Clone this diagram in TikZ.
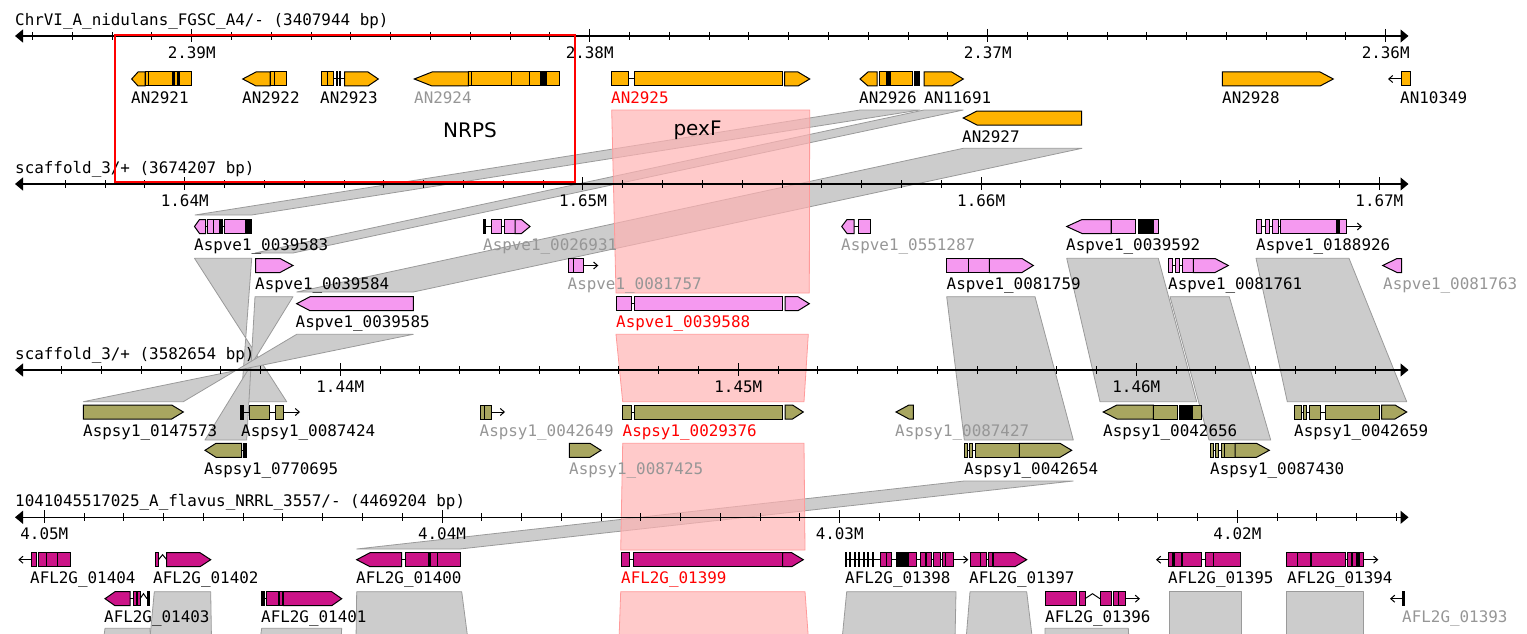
\documentclass[tikz,border=0pt]{standalone}
\usepackage{fontspec}
\usepackage{tikz}
\usetikzlibrary{arrows.meta}
\newfontfamily\browserfont{DejaVu Sans Mono}
\newfontfamily\notefont{DejaVu Sans}
\definecolor{nid-gene}{HTML}{FFB300}
\definecolor{ve-gene}{HTML}{F599F0}
\definecolor{sy-gene}{HTML}{A8A660}
\definecolor{fl-gene}{HTML}{CC1488}
\definecolor{rib-fill}{HTML}{CCCCCC}
\definecolor{rib-edge}{HTML}{9A9A9A}
\definecolor{hit-fill}{HTML}{FFB3B3}
\definecolor{hit-edge}{HTML}{FF9A9A}
\definecolor{lab-gray}{HTML}{969696}

% gene pieces, drawn in a row scope (local y 0..14)
\newcommand{\exon}[2]{\filldraw[exon] (#1,0) rectangle (#2,14);}
\newcommand{\exonK}[2]{\filldraw[exon, fill=black] (#1,0) rectangle (#2,14);}
\newcommand{\exonR}[3]{\filldraw[exon] (#1,0) -- (#2,0) -- (#3,7) -- (#2,14) -- (#1,14) -- cycle;}
\newcommand{\exonL}[3]{\filldraw[exon] (#1,7) -- (#2,0) -- (#3,0) -- (#3,14) -- (#2,14) -- cycle;}
\newcommand{\intron}[2]{\draw[intron] (#1,7) -- (#2,7);}
\newcommand{\caret}[2]{\draw[intron] (#1,7) -- ({(#1+#2)/2},2) -- (#2,7);}
\newcommand{\tailR}[2]{\draw[intron, -{Straight Barb[length=4pt,width=7pt]}] (#1,7) -- (#2,7);}
\newcommand{\tailL}[2]{\draw[intron, -{Straight Barb[length=4pt,width=7pt]}] (#1,7) -- (#2,7);}

\begin{document}
\begin{tikzpicture}[
    x=1pt, y=-1pt,
    % track parts
    seqaxis/.style={line width=1.2pt, {Triangle[length=8pt,width=13pt]}-{Triangle[length=8pt,width=13pt]}},
    tick/.style={line width=1pt},
    gene/.style={draw=black, line width=1pt, line join=miter},
    exon/.style={gene, fill=nid-gene},
    intron/.style={line width=1pt, black},
    genelab/.style={font=\browserfont\fontsize{15.9}{18}\selectfont, anchor=base west, inner sep=0pt},
    graylab/.style={genelab, text=lab-gray},
    redlab/.style={genelab, text=red},
    ticklab/.style={font=\browserfont\fontsize{15.9}{18}\selectfont, anchor=base, inner sep=0pt},
    title/.style={font=\browserfont\fontsize{15.9}{18}\selectfont, anchor=base west, inner sep=0pt},
    % links between tracks
    ribbon/.style={fill=rib-fill, draw=rib-edge, line width=0.8pt, line join=round},
    hit/.style={fill=hit-fill, fill opacity=0.7, draw=hit-edge, line width=0.8pt},
    note/.style={font=\notefont\fontsize{20}{24}\selectfont, inner sep=0pt}
  ]
  \useasboundingbox (0,0) rectangle (1527,634);
  \clip (0,0) rectangle (1527,634);

  % =========================================================================
  % SYNTENY RIBBONS
  % =========================================================================
  % ChrVI -> scaffold_3 (Aspve1)
  \draw[ribbon] (860,110) -- (920,110) -- (251.7,215) -- (195,215) -- cycle;
  \draw[ribbon] (924,110) -- (963.3,110) -- (293,253) -- (255,253) -- cycle;
  \draw[ribbon] (963.3,148.3) -- (1082,148.3) -- (413.3,292) -- (296.7,292) -- cycle;
  % Aspve1 -> Aspsy1 (three inverted ones cross)
  \draw[ribbon] (194.5,258.3) -- (251.7,258.3) -- (241,401.7) -- (286.7,401.7) -- cycle;
  \draw[ribbon] (255,296.7) -- (293,296.7) -- (205,440) -- (246.7,440) -- cycle;
  \draw[ribbon] (296.7,334.3) -- (413.3,334.3) -- (83.3,401.7) -- (183.3,401.7) -- cycle;
  \draw[ribbon] (1066.7,258.3) -- (1158.3,258.3) -- (1196.7,401.7) -- (1100,401.7) -- cycle;
  \draw[ribbon] (946.7,296.7) -- (1035,296.7) -- (1073.3,440) -- (964.3,440) -- cycle;
  \draw[ribbon] (1170,296.7) -- (1229.3,296.7) -- (1270.7,440) -- (1209,440) -- cycle;
  \draw[ribbon] (1256,258.3) -- (1349,258.3) -- (1406.7,401.7) -- (1287.3,401.7) -- cycle;
  % Aspsy1 -> A. flavus
  \draw[ribbon] (964.3,481) -- (1073.3,481) -- (460,549) -- (356.7,549) -- cycle;
  % A. flavus -> next track (cut at the bottom)
  \draw[ribbon] (154.3,591.7) -- (210.7,591.7) -- (211.5,640) -- (149.8,640) -- cycle;
  \draw[ribbon] (105,628.3) -- (150,628.3) -- (150.5,640) -- (103.5,640) -- cycle;
  \draw[ribbon] (261.7,628.3) -- (341.7,628.3) -- (341,640) -- (260,640) -- cycle;
  \draw[ribbon] (356.7,591.7) -- (461.7,591.7) -- (468,640) -- (356,640) -- cycle;
  \draw[ribbon] (846.7,591.7) -- (956,591.7) -- (955,640) -- (842,640) -- cycle;
  \draw[ribbon] (970,591.7) -- (1026.7,591.7) -- (1032.5,640) -- (966,640) -- cycle;
  \draw[ribbon] (1045,628.3) -- (1128.3,628.3) -- (1129,640) -- (1045,640) -- cycle;
  \draw[ribbon] (1169.3,591.7) -- (1241.7,591.7) -- (1241.7,640) -- (1169.3,640) -- cycle;
  \draw[ribbon] (1286.7,591.7) -- (1363.3,591.7) -- (1363.3,640) -- (1286.7,640) -- cycle;
  % pexF orthologues
  \draw[hit] (611.7,110) -- (809.7,110) -- (809.3,293) -- (616,293) -- cycle;
  \draw[hit] (616,334.3) -- (808.3,334.3) -- (804,401.7) -- (622.7,401.7) -- cycle;
  \draw[hit] (622.7,443.3) -- (804,443.3) -- (805,550) -- (620.7,550) -- cycle;
  \draw[hit] (620.7,591.7) -- (805,591.7) -- (808.5,640) -- (619,640) -- cycle;

  % =========================================================================
  % TRACK 1: A. NIDULANS
  % =========================================================================
  \begin{scope}[shift={(0,36)}]
    \node[title] (t-nid) at (15,-10.5) {ChrVI\_A\_nidulans\_FGSC\_A4/- (3407944 bp)};
    \draw[seqaxis] (15,0) -- (1408.5,0);
    \foreach \i in {0,...,34} \draw[tick] ({32.5+39.8*\i},-4) -- ++(0,8);
    \foreach \i/\m in {4/2.39M,14/2.38M,24/2.37M,34/2.36M} {
      \draw[tick] ({32.5+39.8*\i},-7) -- ++(0,13);
      \node[ticklab] (m-nid-\i) at ({32.5+39.8*\i},22.5) {\m};
    }
  \end{scope}
  \begin{scope}[exon/.style={gene, fill=nid-gene}]
    \begin{scope}[shift={(0,72)}]
      \exonL{131.7}{138}{145}\exon{145}{148.3}\exon{148.3}{191.7}\exonK{172}{174}\exonK{177.5}{179.5}
      \node[genelab] (an2921) at (131,31) {AN2921};
      \exonL{242.7}{256}{270}\exon{270}{274}\exon{274}{286}
      \node[genelab] (an2922) at (242,31) {AN2922};
      \intron{333}{345}\exon{321}{327.5}\exon{327.5}{333}\exonK{336.5}{337.5}\exonK{339.5}{340.5}\exonR{344.5}{368}{378.3}
      \node[genelab] (an2923) at (320,31) {AN2923};
      \exonL{414.3}{432}{468.3}\exon{468.3}{471.3}\exon{471.3}{511.7}\exon{511.7}{529}\exon{529}{540.5}\exonK{541.5}{543}\exonK{544.5}{546}\exon{546}{559.3}
      \node[graylab] (an2924) at (414,31) {AN2924};
      \intron{628.3}{634}\exon{611.7}{628.3}\exon{634}{782}\exonR{784.5}{798}{809.7}
      \node[redlab] (an2925) at (611,31) {AN2925};
      \exonL{860}{868}{877}\exon{879}{886.5}\exonK{886.5}{890.5}\exon{890.5}{912.3}\exonK{914.5}{916}\exonK{917.5}{919.5}
      \node[genelab] (an2926) at (859,31) {AN2926};
      \exonR{924}{951.7}{963.3}
      \node[genelab] (an11691) at (924,31) {AN11691};
      \exonR{1222.3}{1320}{1333.3}
      \node[genelab] (an2928) at (1222,31) {AN2928};
      \tailL{1401}{1388}\exon{1401}{1410}
      \node[genelab] (an10349) at (1400,31) {AN10349};
    \end{scope}
    \begin{scope}[shift={(0,111)}]
      \exonL{963.3}{977}{1081.7}
      \node[genelab] (an2927) at (962,31) {AN2927};
    \end{scope}
  \end{scope}

  % =========================================================================
  % TRACK 2: ASPVE1 SCAFFOLD
  % =========================================================================
  \begin{scope}[shift={(0,184)}]
    \node[title] (t-ve) at (15,-11) {scaffold\_3/+ (3674207 bp)};
    \draw[seqaxis] (15,0) -- (1408.5,0);
    \foreach \i in {0,...,33} \draw[tick] ({65.3+39.82*\i},-4) -- ++(0,8);
    \foreach \i/\m in {3/1.64M,13/1.65M,23/1.66M,33/1.67M} {
      \draw[tick] ({65.3+39.82*\i},-7) -- ++(0,13);
      \node[ticklab] (m-ve-\i) at ({65.3+39.82*\i},22.5) {\m};
    }
  \end{scope}
  \begin{scope}[exon/.style={gene, fill=ve-gene}]
    \begin{scope}[shift={(0,219.5)}]
      \intron{194.5}{251.7}\exonL{194.5}{199.5}{205.5}\exon{207.5}{213.5}\exon{213.5}{219.5}\exonK{219.5}{222}\exon{224.5}{245}\exonK{245}{251.7}
      \node[genelab] (ve583) at (194,31) {Aspve1\_0039583};
      \intron{483.3}{504}\exonK{483.3}{485.5}\exon{491.7}{501.7}\exon{504.5}{515}\exonR{515}{521.5}{530}
      \node[graylab] (ve931) at (483,31) {Aspve1\_0026931};
      \intron{850}{858}\exonL{841.7}{847}{854}\exon{858}{870}
      \node[graylab] (ve287) at (841,31) {Aspve1\_0551287};
      \exonL{1066.7}{1082}{1111}\exon{1111}{1135.7}\exonK{1138}{1153.3}\exon{1153.3}{1158.3}
      \node[genelab] (ve592) at (1066,31) {Aspve1\_0039592};
      \intron{1256}{1346.7}\exon{1256}{1261.5}\exon{1265}{1269.5}\exon{1272}{1278}\exon{1280}{1336}\exonK{1336}{1339}\exon{1339}{1346.7}\tailR{1346.7}{1362}
      \node[genelab] (ve926) at (1256,31) {Aspve1\_0188926};
    \end{scope}
    \begin{scope}[shift={(0,258.5)}]
      \exonR{255.5}{280}{293}
      \node[genelab] (ve584) at (255,31) {Aspve1\_0039584};
      \exon{568.3}{573.3}\exon{573.3}{583.3}\tailR{583.3}{598.3}
      \node[graylab] (ve757) at (567.5,31) {Aspve1\_0081757};
      \exon{946.7}{968.3}\exon{968.3}{989.3}\exonR{989.3}{1022}{1033.3}
      \node[genelab] (ve759) at (946.5,31) {Aspve1\_0081759};
      \intron{1168.3}{1193.3}\exon{1168.3}{1172.5}\exon{1175}{1179}\exon{1182}{1193.3}\exonR{1193.3}{1215}{1228.3}
      \node[genelab] (ve761) at (1168,31) {Aspve1\_0081761};
      \exonL{1382.7}{1397}{1401.7}
      \node[graylab] (ve763) at (1383,31) {Aspve1\_0081763};
    \end{scope}
    \begin{scope}[shift={(0,296.7)}]
      \exonL{296.7}{310}{413.3}
      \node[genelab] (ve585) at (295.5,31) {Aspve1\_0039585};
      \intron{631}{634}\exon{616}{631}\exon{634}{782.7}\exonR{785}{798}{809.3}
      \node[redlab] (ve588) at (616,31) {Aspve1\_0039588};
    \end{scope}
  \end{scope}

  % =========================================================================
  % TRACK 3: ASPSY1 SCAFFOLD
  % =========================================================================
  \begin{scope}[shift={(0,370)}]
    \node[title] (t-sy) at (15,-11) {scaffold\_3/+ (3582654 bp)};
    \draw[seqaxis] (15,0) -- (1408.5,0);
    \foreach \i in {0,...,33} \draw[tick] ({61.7+39.8*\i},-4) -- ++(0,8);
    \foreach \i/\m in {7/1.44M,17/1.45M,27/1.46M} {
      \draw[tick] ({61.7+39.8*\i},-7) -- ++(0,13);
      \node[ticklab] (m-sy-\i) at ({61.7+39.8*\i},22.5) {\m};
    }
  \end{scope}
  \begin{scope}[exon/.style={gene, fill=sy-gene}]
    \begin{scope}[shift={(0,405)}]
      \exonR{83.3}{171.7}{183.3}
      \node[genelab] (sy573) at (83,31) {Aspsy1\_0147573};
      \intron{241}{283.3}\exonK{240.7}{243}\exon{249.3}{269.5}\exon{275}{283.3}\tailR{283.3}{300}
      \node[genelab] (sy424) at (241,31) {Aspsy1\_0087424};
      \exon{480}{484}\exon{484}{491.7}\tailR{491.7}{505}
      \node[graylab] (sy649) at (479.5,31) {Aspsy1\_0042649};
      \intron{631}{634.3}\exon{622.7}{631}\exon{634.3}{782.7}\exonR{785}{792.5}{803.3}
      \node[redlab] (sy376) at (622.5,31) {Aspsy1\_0029376};
      \exonL{896}{909}{913.3}
      \node[graylab] (sy427) at (895,31) {Aspsy1\_0087427};
      \exonL{1103.3}{1117}{1153.3}\exon{1153.3}{1177.7}\exonK{1179}{1191.7}\exon{1192.7}{1201}
      \node[genelab] (sy656) at (1103,31) {Aspsy1\_0042656};
      \intron{1294.3}{1325}\exon{1294.3}{1301.5}\exon{1303.5}{1306.5}\exon{1309}{1320}\exon{1325}{1379.3}\exonR{1381.5}{1395}{1406.7}
      \node[genelab] (sy659) at (1294,31) {Aspsy1\_0042659};
    \end{scope}
    \begin{scope}[shift={(0,443.3)}]
      \intron{241.7}{243.5}\exonL{205}{216}{241.7}\exonK{243.5}{246.5}
      \node[genelab] (sy695) at (204,31) {Aspsy1\_0770695};
      \exonR{569.3}{590}{601}
      \node[graylab] (sy425) at (569,31) {Aspsy1\_0087425};
      \intron{964.3}{975}\exon{964.3}{967.5}\exon{969}{972.5}\exon{975}{1019.3}\exonR{1019.3}{1060}{1071.7}
      \node[genelab] (sy654) at (964,31) {Aspsy1\_0042654};
      \intron{1210}{1224}\exon{1210}{1213}\exon{1215.5}{1218.5}\exon{1221}{1224}\exon{1224}{1235}\exonR{1235}{1256.5}{1269.3}
      \node[genelab] (sy430) at (1210,31) {Aspsy1\_0087430};
    \end{scope}
  \end{scope}

  % =========================================================================
  % TRACK 4: A. FLAVUS
  % =========================================================================
  \begin{scope}[shift={(0,517.3)}]
    \node[title] (t-fl) at (15,-11) {1041045517025\_A\_flavus\_NRRL\_3557/- (4469204 bp)};
    \draw[seqaxis] (15,0) -- (1408.5,0);
    \foreach \i in {0,...,34} \draw[tick] ({44.3+39.77*\i},-4) -- ++(0,8);
    \foreach \i/\m in {0/4.05M,10/4.04M,20/4.03M,30/4.02M} {
      \draw[tick] ({44.3+39.77*\i},-7) -- ++(0,13);
      \node[ticklab] (m-fl-\i) at ({44.3+39.77*\i},22.5) {\m};
    }
  \end{scope}
  \begin{scope}[exon/.style={gene, fill=fl-gene}]
    \begin{scope}[shift={(0,552.7)}]
      \tailL{31.7}{18.3}\exon{31.7}{36.7}\exon{38}{46.7}\exon{46.7}{57.3}\exon{57.3}{70}
      \node[genelab] (fl404) at (30,31) {AFL2G\_01404};
      \exon{155}{158.5}\caret{158.5}{166.7}\exonR{166.7}{200}{210.7}
      \node[genelab] (fl402) at (153,31) {AFL2G\_01402};
      \intron{401.7}{405}\exonL{356.7}{370}{401.7}\exon{405}{428}\exonK{428}{430.5}\exon{430.5}{437}\exon{437}{460}
      \node[genelab] (fl400) at (356,31) {AFL2G\_01400};
      \intron{629.3}{633.3}\exon{621.7}{629.3}\exon{633.3}{782.7}\exonR{782.7}{791.7}{803.3}
      \node[redlab] (fl399) at (621,31) {AFL2G\_01399};
      \intron{845}{953.3}
      \foreach \a in {845,849.5,854,858.5,863,867.5,872} {\exonK{\a}{\a+1.2}}
      \exon{880}{886.7}\exon{886.7}{891.7}\exonK{896.7}{908.3}\exon{908.3}{916.7}\exon{920.5}{925}\exon{926.5}{931.5}\exon{933.3}{940}\exon{942}{945}\exon{945}{953.3}\tailR{953.3}{968.3}
      \node[genelab] (fl398) at (845,31) {AFL2G\_01398};
      \intron{986.7}{993.3}\exon{970}{980}\exon{980}{986.7}\exon{988.3}{992}\exonR{993.3}{1015}{1026.7}
      \node[genelab] (fl397) at (969,31) {AFL2G\_01397};
      \tailL{1168.3}{1156}\intron{1168.3}{1240}\exon{1168.3}{1172}\exonK{1172}{1174}\exon{1174}{1181.7}\exon{1182.7}{1201.7}\exon{1205}{1213.3}\exon{1213.3}{1240}
      \node[genelab] (fl395) at (1168,31) {AFL2G\_01395};
      \intron{1286.7}{1363}\exon{1286.7}{1297.7}\exon{1297.7}{1310}\exon{1311.7}{1345.7}\exon{1347.5}{1351.5}\exon{1352.5}{1356}\exonK{1356.5}{1359}\exon{1359.5}{1363}\tailR{1363}{1378.3}
      \node[genelab] (fl394) at (1287,31) {AFL2G\_01394};
    \end{scope}
    \begin{scope}[shift={(0,591.7)}]
      \intron{130}{133}\exonL{105}{115}{130}\exon{133}{136.5}\exon{137.5}{140}\caret{140}{147}\exonK{147.5}{149.5}
      \node[genelab] (fl403) at (104,31) {AFL2G\_01403};
      \intron{264}{283.3}\exonK{261.7}{264}\exon{266.7}{278.3}\exon{279.5}{282.5}\exonR{283.3}{331.7}{341.7}
      \node[genelab] (fl401) at (261,31) {AFL2G\_01401};
      \exon{1045}{1076.7}\exon{1079}{1085}\caret{1085}{1100}\exon{1100}{1111.7}\exon{1113.3}{1118.3}\exon{1118.3}{1125}\tailR{1125}{1140}
      \node[genelab] (fl396) at (1045,31) {AFL2G\_01396};
      \tailL{1403}{1390}\exonK{1402.5}{1404}
      \node[graylab] (fl393) at (1402,31) {AFL2G\_01393};
    \end{scope}
  \end{scope}

  % =========================================================================
  % ANNOTATIONS
  % =========================================================================
  \draw[red, line width=2pt] (115,35.5) rectangle (574.5,182);
  \node[note] (nrps) at (470,130) {NRPS};
  \node[note] (pexf) at (697.5,130) {pexF};

\end{tikzpicture}
\end{document}
